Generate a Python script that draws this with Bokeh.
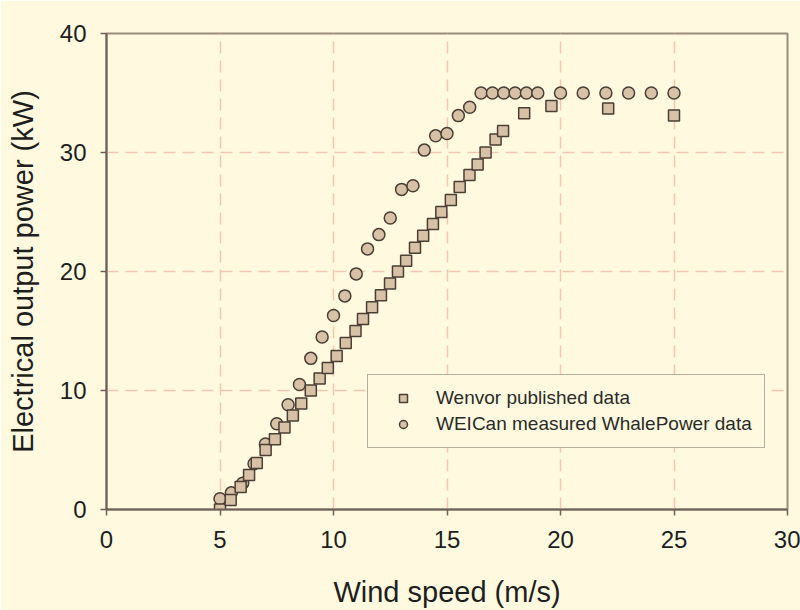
from bokeh.plotting import figure
from bokeh.models import Range1d, Legend, LegendItem, FixedTicker
from bokeh.embed import file_html
from bokeh.resources import INLINE

# ---- data ----
wind_wenvor = [5.0, 5.47, 5.91, 6.28, 6.62, 7.01, 7.42, 7.84, 8.21, 8.58, 9.0, 9.39,
               9.75, 10.14, 10.54, 10.97, 11.3, 11.7, 12.09, 12.49, 12.84, 13.2, 13.59,
               13.95, 14.38, 14.75, 15.17, 15.56, 15.99, 16.35, 16.7, 17.14, 17.47,
               18.4, 19.6, 22.1, 25.0]
power_wenvor = [0.0, 0.8, 1.9, 2.9, 3.9, 5.0, 5.9, 6.9, 7.9, 8.9, 10.0, 11.0,
                11.9, 12.9, 14.0, 15.0, 16.0, 17.0, 18.0, 19.0, 20.0, 20.9, 22.0,
                23.0, 24.0, 25.0, 26.0, 27.1, 28.1, 29.0, 30.0, 31.1, 31.8,
                33.3, 33.9, 33.7, 33.1]

wind_weican = [5.0, 5.5, 6.0, 6.5, 7.0, 7.5, 8.0, 8.5, 9.0, 9.5, 10.0, 10.5, 11.0,
               11.5, 12.0, 12.5, 13.0, 13.5, 14.0, 14.5, 15.0, 15.5, 16.0, 16.5,
               17.0, 17.5, 18.0, 18.5, 19.0, 20.0, 21.0, 22.0, 23.0, 24.0, 25.0]
power_weican = [0.9, 1.4, 2.2, 3.85, 5.5, 7.2, 8.8, 10.5, 12.7, 14.5, 16.3, 17.95, 19.8,
                21.9, 23.1, 24.5, 26.9, 27.2, 30.2, 31.4, 31.6, 33.1, 33.8, 35.0,
                35.0, 35.0, 35.0, 35.0, 35.0, 35.0, 35.0, 35.0, 35.0, 35.0, 35.0]

x_ticks = [0, 5, 10, 15, 20, 25, 30]
y_ticks = [0, 10, 20, 30, 40]
series_labels = ["Wenvor published data", "WEICan measured WhalePower data"]
x_title = "Wind speed (m/s)"
y_title = "Electrical output power (kW)"

BG = "#FFFADF"
AXIS = "#6F6157"
FRAME = "#9C8B7D"
GRID = "#F4C6B2"
FILL = "#D7C2A8"
EDGE = "#4A3E35"
FONT = "Liberation Sans"

p = figure(frame_width=681, frame_height=476, output_backend="svg",
           toolbar_location=None,
           x_range=Range1d(0, 30), y_range=Range1d(0, 40),
           min_border_left=106, min_border_right=13, min_border_top=33,
           min_border_bottom=101,
           background_fill_color=BG, border_fill_color=BG)

p.outline_line_color = FRAME
p.outline_line_width = 2

p.xaxis.ticker = FixedTicker(ticks=x_ticks)
p.yaxis.ticker = FixedTicker(ticks=y_ticks)
p.xgrid.ticker = FixedTicker(ticks=x_ticks)
p.ygrid.ticker = FixedTicker(ticks=y_ticks)

for ax in (p.xaxis, p.yaxis):
    ax.axis_line_color = AXIS
    ax.axis_line_width = 2
    ax.major_tick_line_color = AXIS
    ax.major_tick_line_width = 1.5
    ax.major_tick_out = 6
    ax.major_tick_in = 0
    ax.minor_tick_out = 0
    ax.minor_tick_in = 0
    ax.major_label_text_font = FONT
    ax.major_label_text_font_size = "24px"
    ax.major_label_text_color = "#1E1E1E"
    ax.axis_label_text_font = FONT
    ax.axis_label_text_font_size = "29px"
    ax.axis_label_text_font_style = "normal"
    ax.axis_label_text_color = "#1E1E1E"

p.xaxis.axis_label = x_title
p.yaxis.axis_label = y_title
p.xaxis.major_label_standoff = 15
p.yaxis.major_label_standoff = 14
p.xaxis.axis_label_standoff = 25
p.yaxis.axis_label_standoff = 18

for g in (p.xgrid, p.ygrid):
    g.grid_line_color = GRID
    g.grid_line_dash = "12 7"
    g.grid_line_width = 1.5

ci = p.scatter(wind_weican, power_weican, marker="circle", size=12,
               fill_color=FILL, line_color=EDGE, line_width=1.5)
sq = p.scatter(wind_wenvor, power_wenvor, marker="square", size=11,
               fill_color=FILL, line_color=EDGE, line_width=1.5)

legend = Legend(items=[LegendItem(label=series_labels[0], renderers=[sq]),
                       LegendItem(label=series_labels[1], renderers=[ci])],
                location=(261, 61))
legend.border_line_color = AXIS
legend.border_line_width = 1.5
legend.background_fill_color = BG
legend.background_fill_alpha = 1
legend.padding = 12
legend.spacing = 4
legend.margin = 0
legend.glyph_width = 46
legend.glyph_height = 20
legend.label_height = 20
legend.label_standoff = 10
legend.label_text_font = FONT
legend.label_text_font_size = "19px"
legend.label_text_color = "#2A2A2A"
p.add_layout(legend, "center")

html = file_html(p, INLINE)
html = html.replace("<body>",
                    '<body style="background-color:#FFFADF;margin:0;overflow:hidden;">', 1)
open("out.html", "w").write(html)
